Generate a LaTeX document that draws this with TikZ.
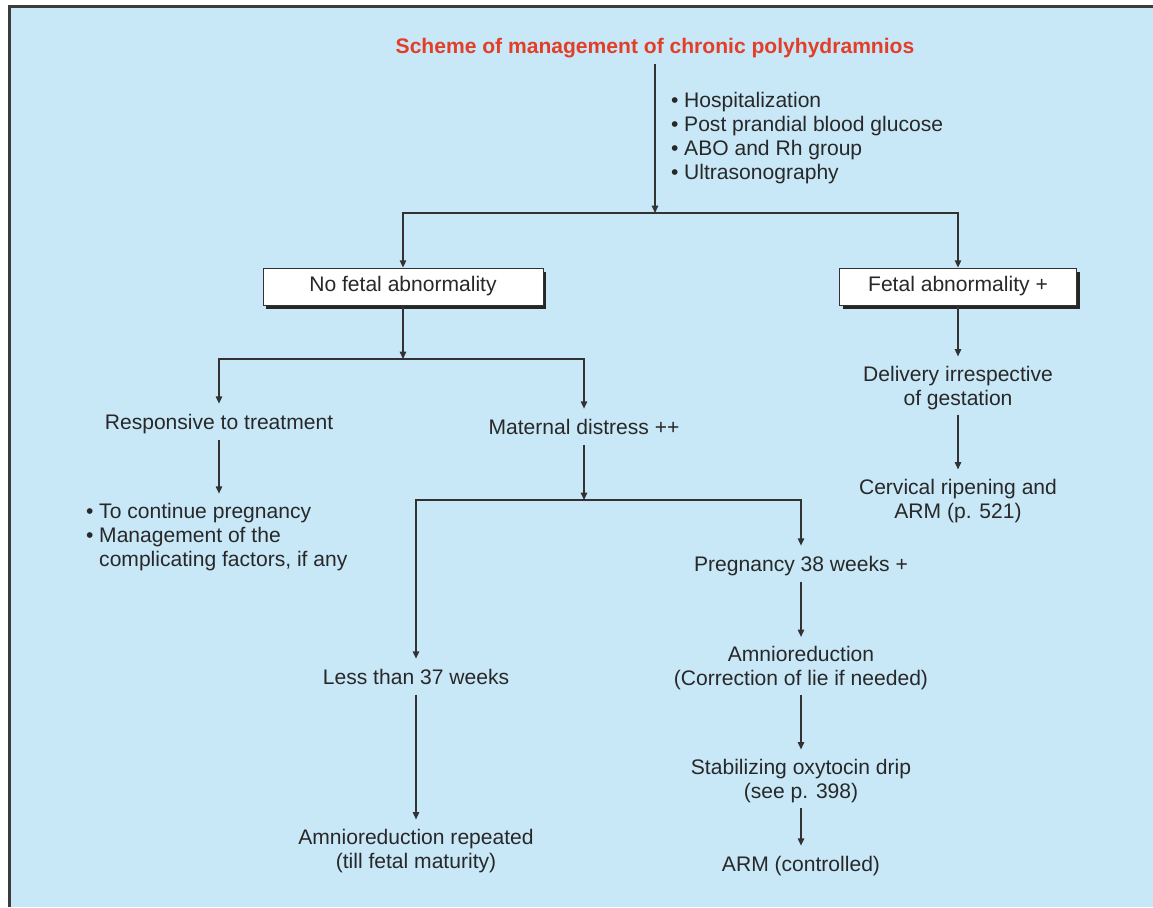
\documentclass[tikz,border=0pt]{standalone}
\usepackage{fontspec}
\setmainfont{Liberation Sans}
\usetikzlibrary{arrows.meta,shadows}
\definecolor{bg}{RGB}{200,232,248}
\definecolor{ttl}{RGB}{226,62,40}
\definecolor{txt}{RGB}{40,40,40}
\definecolor{ln}{RGB}{50,50,50}
\definecolor{frm}{RGB}{60,60,60}
\begin{document}
\begin{tikzpicture}[x=0.75pt,y=-0.75pt,
  every node/.style={font=\fontsize{15.8}{18}\selectfont, text=txt},
  lbl/.style={inner sep=0pt, outer sep=0pt, align=center, execute at begin node=\strut, execute at end node=\strut},
  lst/.style={lbl, align=left, anchor=north west},
  box/.style={draw=ln, line width=0.6pt, fill=white, minimum height=27.75pt, inner sep=0pt,
    drop shadow={shadow xshift=2.6pt, shadow yshift=-3pt, fill=black!85, opacity=1}},
  con/.style={draw=ln, line width=1.1pt},
  arr/.style={con, -{Triangle[width=4.8pt,length=5.5pt]}},
  totext/.style={shorten >=7pt},
  fromtext/.style={shorten <=2pt}
]
\useasboundingbox (0,0) rectangle (1153,907);
\fill[white] (0,0) rectangle (1153,907);
\fill[bg] (9.5,6.5) rectangle (1153,907);
\draw[frm, line width=2.25pt] (9.5,907) -- (9.5,6.5) -- (1153,6.5);

\node[lbl, font=\fontsize{15.8}{18}\selectfont\bfseries, text=ttl] (title) at (655,49) {Scheme of management of chronic polyhydramnios};
\node[lst] (inv) at (671,92) {•\ Hospitalization\\ •\ Post prandial blood glucose\\ •\ ABO and Rh group\\ •\ Ultrasonography};
\coordinate (j1) at (655,213);
\node[box, minimum width=210pt] (nofa) at (403,286.5) {No fetal abnormality};
\node[box, minimum width=177.75pt] (fa) at (958,286.5) {Fetal abnormality +};
\coordinate (j2) at (403,359);
\node[lbl] (resp) at (219,425) {Responsive to treatment};
\node[lbl] (mat) at (584,430) {Maternal distress ++};
\node[lst] (cont) at (86,503) {•\ To continue pregnancy\\ •\ Management of the\\ \phantom{•\ }complicating factors, if any};
\coordinate (j3) at (584,500);
\node[lbl] (preg) at (801,567) {Pregnancy 38 weeks +};
\node[lbl] (amn) at (801,669.5) {Amnioreduction\\(Correction of lie if needed)};
\node[lbl] (stab) at (801,782) {Stabilizing oxytocin drip\\(see p. 398)};
\node[lbl] (armc) at (801,867) {ARM (controlled)};
\node[lbl] (less) at (416,680) {Less than 37 weeks};
\node[lbl] (amr) at (416,852) {Amnioreduction repeated\\(till fetal maturity)};
\node[lbl] (del) at (958,389) {Delivery irrespective\\of gestation};
\node[lbl] (cerv) at (958,502) {Cervical ripening and\\ARM (p. 521)};

\draw[arr, fromtext] (title) -- (j1);
\draw[arr] (j1) -| (nofa);
\draw[arr] (j1) -| (fa);
\draw[arr] (nofa) -- (j2);
\draw[arr, totext] (j2) -| (resp);
\draw[arr, totext] (j2) -| (mat);
\draw[arr, fromtext, totext] (resp) -- (resp |- cont.north);
\draw[arr, fromtext] (mat) -- (j3);
\draw[arr, totext] (j3) -| (preg);
\draw[arr, totext] (j3) -| (less);
\draw[arr, fromtext, totext] (preg) -- (amn);
\draw[arr, fromtext, totext] (amn) -- (stab);
\draw[arr, fromtext, totext] (stab) -- (armc);
\draw[arr, fromtext, totext] (less) -- (amr);
\draw[arr, totext] (fa) -- (del);
\draw[arr, fromtext, totext] (del) -- (cerv);
\end{tikzpicture}
\end{document}
